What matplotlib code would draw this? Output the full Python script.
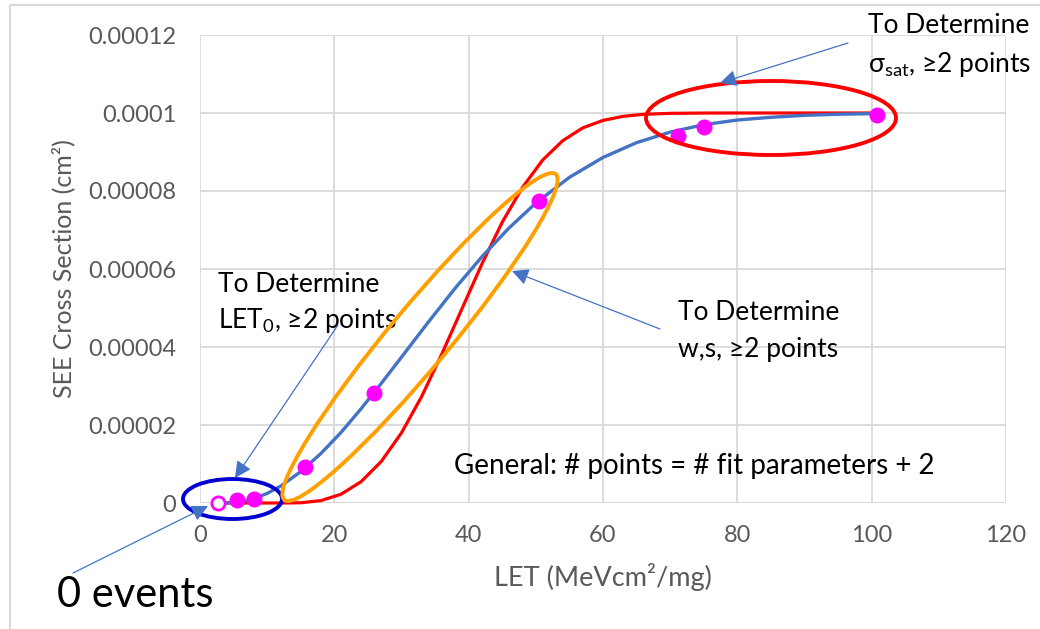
import matplotlib
matplotlib.use("Agg")
import matplotlib.pyplot as plt
from matplotlib.patches import Ellipse, Rectangle, FancyArrowPatch
from matplotlib.transforms import Affine2D

plt.rcParams['font.family'] = ['Lato', 'DejaVu Sans']
plt.rcParams['mathtext.fontset'] = 'custom'
plt.rcParams['mathtext.rm'] = 'Lato'

# ---- data ----
pts_x = [5.5, 8.0, 15.6, 25.9, 50.5, 71.2, 75.0, 100.8]
pts_y = [0.8e-6, 1.0e-6, 9.2e-6, 2.82e-5, 7.74e-5, 9.41e-5, 9.64e-5, 9.95e-5]
zero_x = [2.7]
zero_y = [0.0]

blue_x = [4, 6, 8, 10, 12, 15, 18, 21, 24, 27, 30, 34, 38, 42, 46, 50, 55, 60, 65, 70, 75, 80, 85, 90, 95, 100.8]
blue_y = [0, 0.028e-5, 0.11e-5, 0.246e-5, 0.433e-5, 0.804e-5, 1.27e-5, 1.81e-5, 2.42e-5, 3.07e-5,
          3.74e-5, 4.64e-5, 5.51e-5, 6.32e-5, 7.05e-5, 7.69e-5, 8.35e-5, 8.86e-5, 9.24e-5, 9.51e-5,
          9.70e-5, 9.82e-5, 9.89e-5, 9.94e-5, 9.968e-5, 9.985e-5]

red_x = [2, 12.5, 15, 18, 21, 24, 27, 30, 33, 36, 39, 42, 45, 48, 51, 54, 57, 60, 63, 66, 70, 75, 80, 100.8]
red_y = [0, 0, 0.006e-5, 0.061e-5, 0.225e-5, 0.548e-5, 1.068e-5, 1.80e-5, 2.73e-5, 3.82e-5, 4.98e-5,
         6.14e-5, 7.20e-5, 8.09e-5, 8.79e-5, 9.29e-5, 9.62e-5, 9.81e-5, 9.915e-5, 9.966e-5, 9.991e-5,
         9.999e-5, 10.0e-5, 10.0e-5]

x_ticks = [0, 20, 40, 60, 80, 100, 120]
y_ticks = [0, 2e-5, 4e-5, 6e-5, 8e-5, 1e-4, 1.2e-4]
y_ticklabels = ['0', '0.00002', '0.00004', '0.00006', '0.00008', '0.0001', '0.00012']

W, H = 1040, 629
fig = plt.figure(figsize=(W / 100, H / 100), dpi=100)
fig.patch.set_facecolor('white')

# pixel (top-left origin) -> display transform
PX = Affine2D().scale(1 / W, -1 / H).translate(0, 1) + fig.transFigure

# outer border
fig.add_artist(Rectangle((10, 5), 1100, 700, transform=PX, fill=False,
                         edgecolor='#D9D9D9', lw=1.5))

ax = fig.add_axes([200 / W, 1 - 503 / H, 806 / W, 468 / H])
ax.set_xlim(0, 120)
ax.set_ylim(0, 1.2e-4)
ax.set_xticks(x_ticks)
ax.set_xticklabels([str(v) for v in x_ticks])
ax.set_yticks(y_ticks)
ax.set_yticklabels(y_ticklabels)
ax.tick_params(length=0, labelsize=17, labelcolor='#595959')
ax.tick_params(axis='x', pad=16)
ax.tick_params(axis='y', pad=17)
ax.grid(True, color='#D9D9D9', lw=1.3)
ax.set_axisbelow(True)
for s in ax.spines.values():
    s.set_visible(False)
ax.axhline(0, color='#D9D9D9', lw=1.3, zorder=0.5)

ax.set_xlabel('LET (MeVcm²/mg)', fontsize=19.5, color='#595959')
ax.xaxis.set_label_coords(0.5, -0.128)
ax.set_ylabel('SEE Cross Section (cm²)', fontsize=18, color='#595959')
ax.yaxis.set_label_coords(-0.155, 0.5)

ax.plot(red_x, red_y, color='#FF0000', lw=2.3, zorder=3, clip_on=False)
ax.plot(blue_x, blue_y, color='#4472C4', lw=2.4, zorder=3, clip_on=False)
ax.plot(pts_x, pts_y, 'o', color='#FF00FF', ms=10.5, zorder=6, clip_on=False)
ax.plot(zero_x, zero_y, 'o', mfc='white', mec='#FF00FF', mew=2, ms=9.5, zorder=6, clip_on=False)

# ellipses (annotation shapes, pixel space, y downwards)
fig.add_artist(Ellipse((232.5, 499), 99, 40, angle=0, transform=PX, fill=False,
                       edgecolor='#0000D0', lw=2.8, zorder=5))
fig.add_artist(Ellipse((420, 337), 424, 60, angle=-50.2, transform=PX, fill=False,
                       edgecolor='#FFA000', lw=2.8, zorder=5))
fig.add_artist(Ellipse((771, 118), 250, 74, angle=0, transform=PX, fill=False,
                       edgecolor='#FF0000', lw=2.8, zorder=5))

# arrows
def arrow(p0, p1):
    fig.add_artist(FancyArrowPatch(p0, p1, transform=PX, arrowstyle='-|>,head_length=10,head_width=5',
                                   mutation_scale=1, color='#4472C4', lw=0.9, zorder=7,
                                   shrinkA=0, shrinkB=0))

arrow((73, 573), (208, 506))
arrow((338, 325), (235, 478))
arrow((660, 329), (512, 271))
arrow((848, 43), (720, 83))

def ptext(x, y, s, size=19, **kw):
    fig.text(x / W, 1 - y / H, s, fontsize=size, color='black', va='baseline', ha='left', **kw)

ptext(868, 33, 'To Determine')
ptext(868, 72, r'$\mathregular{σ_{sat}}$, ≥2 points')
ptext(218, 292, 'To Determine')
ptext(218, 328, r'LET$\mathregular{_0}$, ≥2 points')
ptext(678, 320, 'To Determine')
ptext(678, 357, 'w,s, ≥2 points')
ptext(454, 474, 'General: # points = # fit parameters + 2', size=20)
ptext(57, 607, '0 events', size=30)

fig.savefig('out.png', dpi=100, facecolor='white')
